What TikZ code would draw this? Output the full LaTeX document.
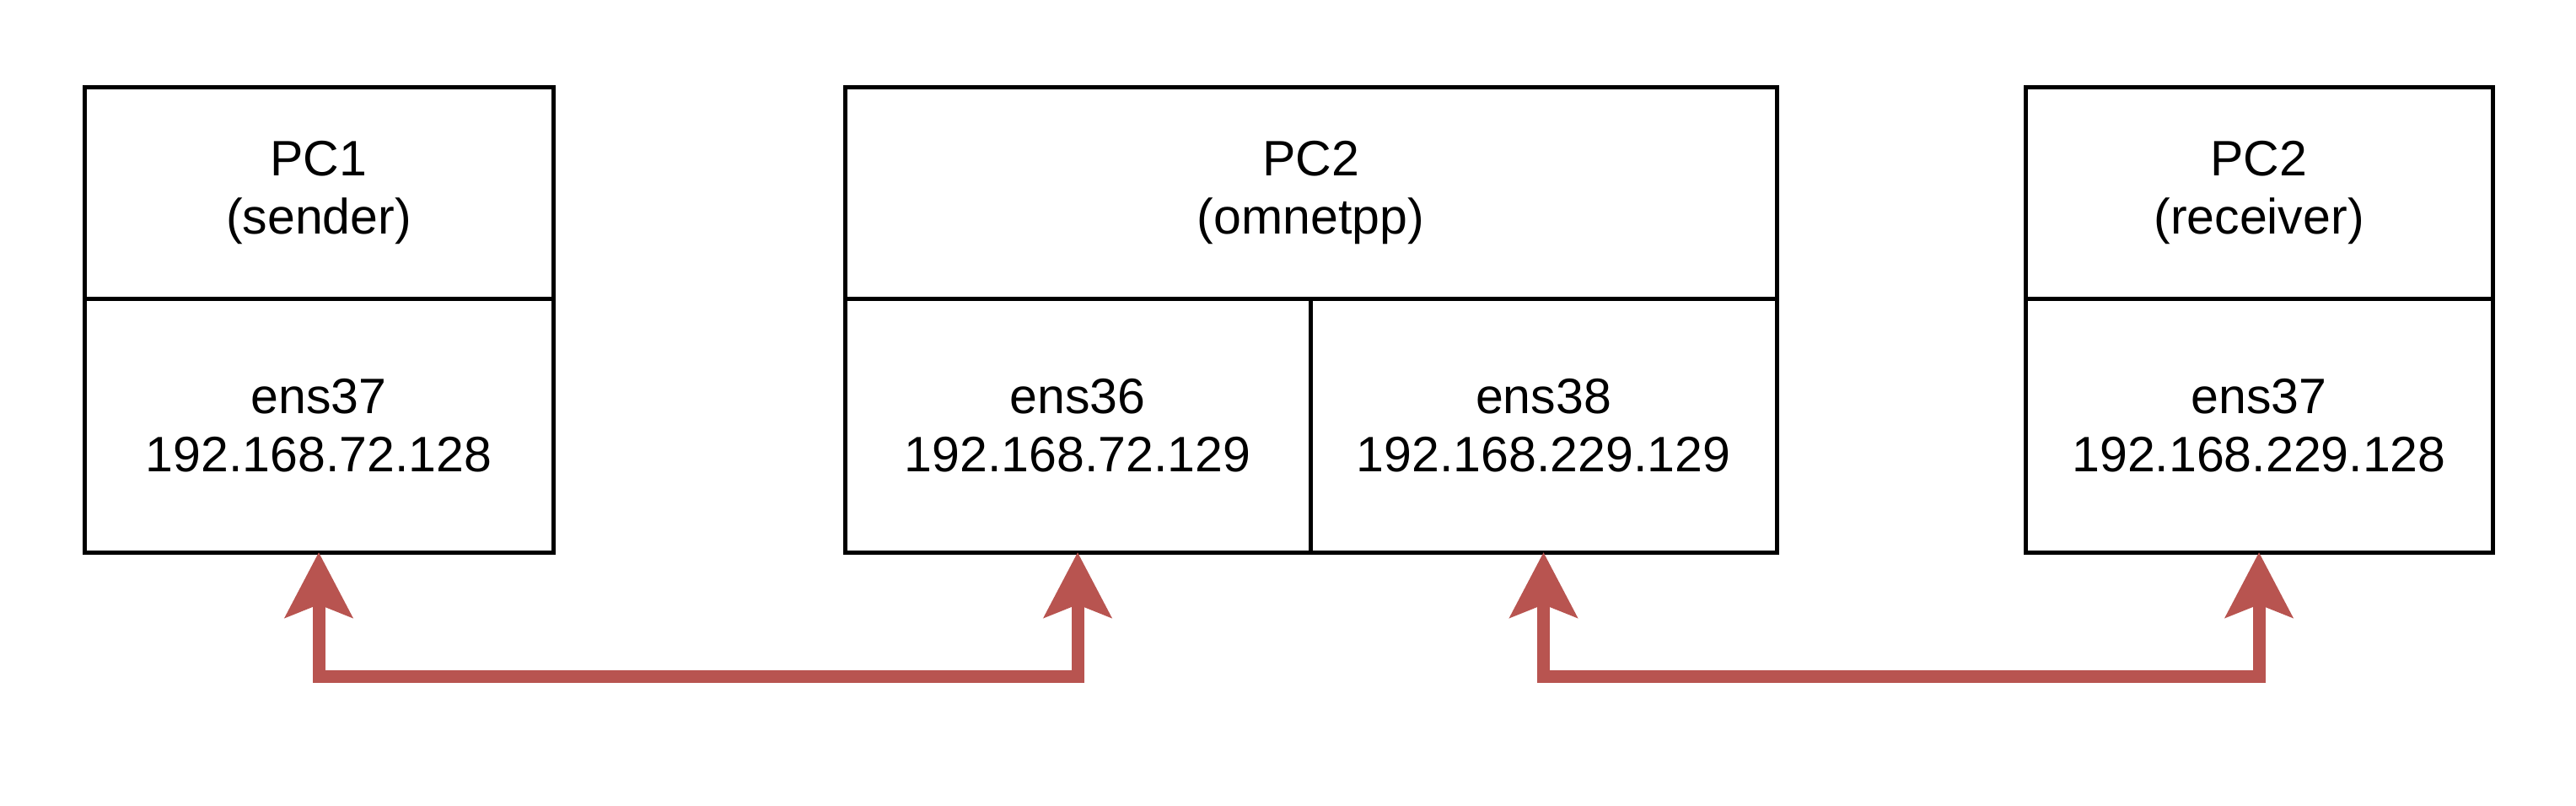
\documentclass[tikz,border=0pt]{standalone}
\usepackage{fontspec}
\setmainfont{Liberation Sans}
\usetikzlibrary{positioning,arrows.meta}
\definecolor{linkred}{RGB}{184,84,80}

\begin{document}
\begin{tikzpicture}[x=1cm,y=1cm,
  cell/.style={draw,line width=0.05cm,inner sep=0pt,outer sep=0pt,align=center,font=\fontsize{16.8}{19.6}\selectfont},
  head/.style={cell,minimum height=2.51cm},
  port/.style={cell,minimum height=3.01cm},
  link/.style={draw=linkred,line width=0.15cm,{Stealth[length=0.77cm,width=0.79cm,inset=0.15cm]}-{Stealth[length=0.77cm,width=0.79cm,inset=0.15cm]}}]
\path[use as bounding box] (0,0) rectangle (30.55,-9.55);
% sender
\node[head,minimum width=5.56cm,anchor=north west] (pc1) at (1.00,-1.03) {PC1\\(sender)};
\node[port,minimum width=5.56cm,below=0pt of pc1] (pc1ens37) {ens37\\192.168.72.128};
% omnetpp
\node[head,minimum width=11.05cm,anchor=north west] (pc2) at (10.02,-1.03) {PC2\\(omnetpp)};
\node[port,minimum width=5.52cm,anchor=north west] (pc2ens36) at (pc2.south west) {ens36\\192.168.72.129};
\node[port,minimum width=5.53cm,right=0pt of pc2ens36] (pc2ens38) {ens38\\192.168.229.129};
% receiver
\node[head,minimum width=5.54cm,anchor=north west] (pc3) at (24.02,-1.03) {PC2\\(receiver)};
\node[port,minimum width=5.54cm,below=0pt of pc3] (pc3ens37) {ens37\\192.168.229.128};
% links
\draw[link] (pc1ens37.south) -- ++(0,-1.47) -| (pc2ens36.south);
\draw[link] (pc2ens38.south) -- ++(0,-1.47) -| (pc3ens37.south);
\end{tikzpicture}
\end{document}
